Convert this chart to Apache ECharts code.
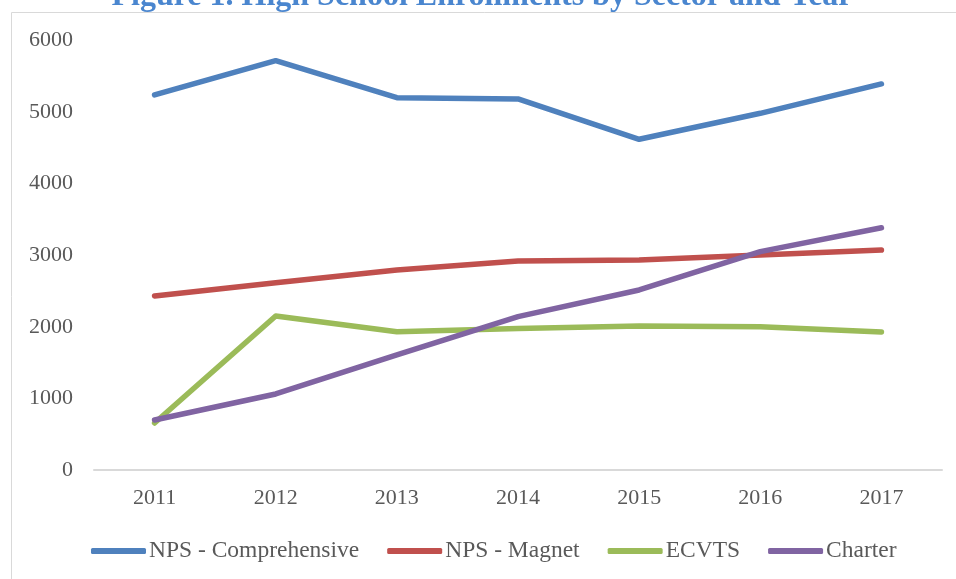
<!DOCTYPE html>
<html>
<head>
<meta charset="utf-8">
<script src="https://cdn.jsdelivr.net/npm/echarts@6/dist/echarts.min.js"></script>
<style>
html,body{margin:0;padding:0;background:#fff;}
#chart{width:956px;height:579px;}
</style>
</head>
<body>
<div id="chart"></div>
<script>
var categories = ['2011','2012','2013','2014','2015','2016','2017'];
var seriesNames = ['NPS - Comprehensive','NPS - Magnet','ECVTS','Charter'];
var comprehensive = [5240, 5718, 5201, 5183, 4620, 4983, 5393];
var magnet = [2431, 2617, 2794, 2920, 2934, 3004, 3073];
var ecvts = [656, 2151, 1932, 1975, 2012, 2002, 1928];
var charter = [698, 1062, 1607, 2142, 2515, 3050, 3385];
var colors = ['#4F81BD','#C0504D','#9BBB59','#8064A2'];
var titleText = 'Figure 1. High School Enrollments by Sector and Year';

var font = '"Liberation Serif", "DejaVu Serif", serif';
var chart = echarts.init(document.getElementById('chart'));
var dataSets = [comprehensive, magnet, ecvts, charter];
chart.setOption({
  animation: false,
  color: colors,
  graphic: [
    {type:'rect', shape:{x:11.5, y:12.5, width:1200, height:1200}, style:{fill:'none', stroke:'#d9d9d9', lineWidth:1}, silent:true, z:0},
    {type:'text', x:482, y:-3, style:{text:titleText, fill:'#4a86cf', font:'bold 32px ' + font, textAlign:'center', textVerticalAlign:'middle'}, z:10}
  ],
  grid: {left:94, right:14, top:40.5, bottom:109, containLabel:false},
  legend: {
    left: 86, top: 534,
    itemWidth: 55, itemHeight: 6, itemGap: 28,
    icon: 'roundRect',
    textStyle: {fontFamily: font, fontSize: 23.5, color: '#595959', padding:[0,0,0,-2]},
    data: seriesNames
  },
  xAxis: {
    type: 'category', data: categories, boundaryGap: true,
    axisLine: {show:true, lineStyle:{color:'#d9d9d9', width:2}},
    axisTick: {show:false},
    axisLabel: {fontFamily: font, fontSize: 22, color:'#595959', margin: 17},
    splitLine: {show:false}
  },
  yAxis: {
    type: 'value', min: 0, max: 6000, interval: 1000,
    axisLine: {show:false}, axisTick:{show:false},
    splitLine: {show:false},
    axisLabel: {fontFamily: font, fontSize: 22, color:'#595959', margin: 21, formatter: function(v){ return String(v); }}
  },
  series: dataSets.map(function(d, i){
    return {
      name: seriesNames[i], type: 'line', data: d,
      symbol: 'none', showSymbol: false,
      lineStyle: {width: 5.5, color: colors[i], cap: 'round', join: 'round'},
      itemStyle: {color: colors[i]}
    };
  })
});
</script>
</body>
</html>
